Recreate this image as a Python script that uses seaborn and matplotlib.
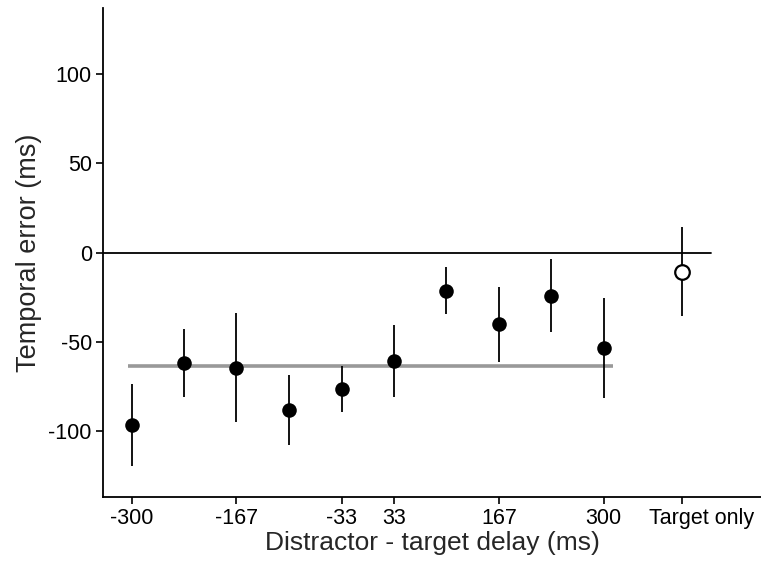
import matplotlib
matplotlib.use("Agg")
import matplotlib.pyplot as plt
import matplotlib.transforms as mtransforms
import seaborn as sns
import pandas as pd

# values
delays = [-300, -233, -167, -100, -33, 33, 100, 167, 233, 300]
mean_error = [-96.9, -61.6, -64.4, -88.1, -76.5, -61.0, -21.3, -39.9, -24.1, -53.2]
lower_error = [-119.8, -81.2, -95.2, -107.7, -89.4, -81.2, -34.5, -61.4, -44.2, -81.5]
upper_error = [-73.7, -42.7, -33.8, -68.5, -63.3, -40.5, -8.2, -19.0, -3.7, -25.2]

target_x = [400]
target_mean = [-10.6]
target_lower = [-35.4]
target_upper = [14.4]

overall_mean = -63.4

tick_pos = [-300, -167, -33, 33, 167, 300, 400]
tick_labels = ["-300", "-167", "-33", "33", "167", "300", "Target only"]

sns.set_style("ticks")
plt.rcParams['font.family'] = ['Liberation Sans', 'DejaVu Sans']
plt.rcParams['axes.unicode_minus'] = False

fig = plt.figure(figsize=(7.61, 5.63), dpi=100)
ax = fig.add_axes([0.1353, 0.1172, 0.8647, 0.868])

df = pd.DataFrame({'delay': delays, 'error': mean_error})

# reference lines
ax.axhline(0, xmin=0, xmax=(436 + 336.5) / (500 + 336.5), color='black', lw=1.3, zorder=1)
ax.hlines(overall_mean, -304.6, 312, color='#999999', lw=2.6, zorder=1)

# error bars
ax.vlines(delays, lower_error, upper_error, color='black', lw=1.3, zorder=2)
ax.vlines(target_x, target_lower, target_upper, color='black', lw=1.3, zorder=2)

sns.scatterplot(data=df, x='delay', y='error', color='black', s=110,
                edgecolor='black', linewidth=0, ax=ax, zorder=3)
ax.scatter(target_x, target_mean, s=110, facecolor='white', edgecolor='black',
           linewidth=1.6, zorder=3)

ax.set_xlim(-336.5, 500)
ax.set_ylim(-137, 137)
ax.set_xticks(tick_pos)
ax.set_xticklabels(tick_labels)
ax.set_yticks([-100, -50, 0, 50, 100])
ax.set_yticklabels(["-100", "-50", "0", "50", "100"])

ax.set_xlabel('Distractor - target delay (ms)', fontsize=19, labelpad=1)
ax.set_ylabel('Temporal error (ms)', fontsize=19.5, labelpad=5)
ax.tick_params(axis='both', labelsize=15.5, length=5, width=1.2, color='black',
               labelcolor='black', pad=3)
for side in ['left', 'bottom']:
    ax.spines[side].set_color('black')
    ax.spines[side].set_linewidth(1.3)
sns.despine(ax=ax)

# "Target only" sits a bit right of its tick in the original
shift = mtransforms.ScaledTranslation(0.19, 0, fig.dpi_scale_trans)
last = ax.get_xticklabels()[-1]
last.set_transform(last.get_transform() + shift)

fig.savefig('out.png', dpi=100)
